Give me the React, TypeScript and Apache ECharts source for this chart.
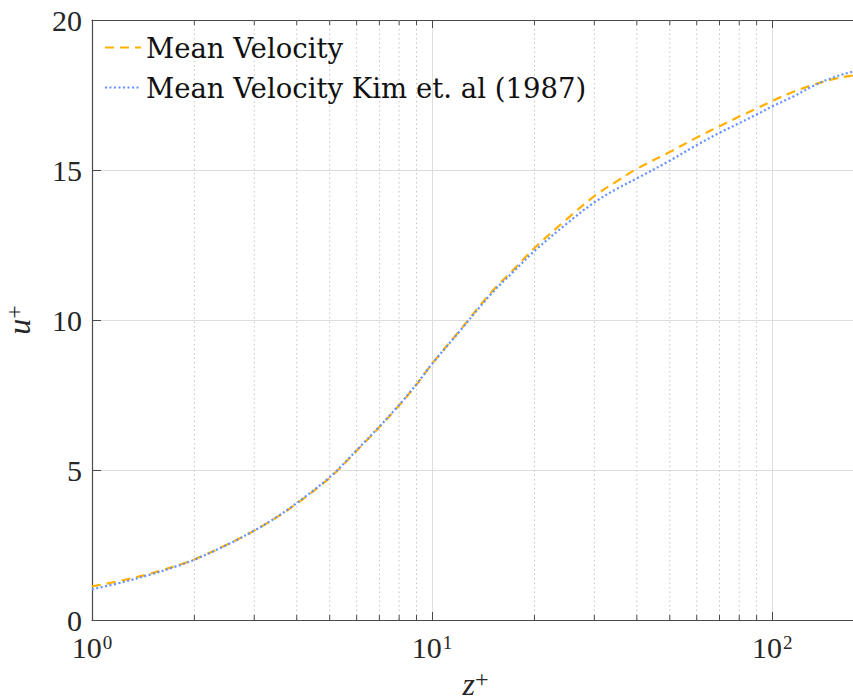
import React, { useEffect, useRef } from "react";
import * as echarts from "echarts";

// z+ sample positions (wall units)
const zPlus = [1, 1.25, 1.5, 1.75, 2, 2.5, 3, 3.5, 4, 5, 6, 7, 8, 9, 10, 12, 15, 17.5, 20, 25, 30, 35, 40, 50, 60, 70, 80, 90, 100, 115, 132, 150, 170, 180];
// Mean velocity (simulation)
const meanVelocity = [1.12, 1.34, 1.56, 1.79, 2.02, 2.52, 2.98, 3.43, 3.88, 4.74, 5.64, 6.43, 7.15, 7.85, 8.54, 9.62, 10.95, 11.72, 12.4, 13.38, 14.13, 14.63, 15.04, 15.6, 16.08, 16.46, 16.78, 17.05, 17.3, 17.6, 17.84, 18.02, 18.14, 18.17];
// Mean velocity Kim et al. (1987)
const meanVelocityKim = [1.02, 1.28, 1.53, 1.77, 2.01, 2.51, 2.98, 3.44, 3.9, 4.76, 5.66, 6.45, 7.17, 7.86, 8.54, 9.6, 10.9, 11.65, 12.3, 13.23, 13.92, 14.38, 14.72, 15.31, 15.83, 16.24, 16.56, 16.85, 17.12, 17.44, 17.8, 18.07, 18.26, 18.3];

const seriesNames = ["Mean Velocity", "Mean Velocity Kim et. al (1987)"];
const majorXTicks = [1, 10, 100];
const minorXTicks = [2, 3, 4, 5, 6, 7, 8, 9, 20, 30, 40, 50, 60, 70, 80, 90];
const yTicks = [0, 5, 10, 15, 20];

const X_MIN = 1;
const X_MAX = 180;
const Y_MIN = 0;
const Y_MAX = 20;

const TICK_FONT = "'Liberation Serif', serif";
const LEGEND_FONT = "'DejaVu Serif', serif";
const AXIS_COLOR = "#4a4a4a";

export default function App() {
  const ref = useRef<HTMLDivElement>(null);

  useEffect(() => {
    if (!ref.current) return;
    const chart = echarts.init(ref.current, null, { renderer: "svg" });

    const isMajor = (v: number) => majorXTicks.some((t) => Math.abs(t - v) < 1e-6 * t);

    const option: any = {
      animation: false,
      backgroundColor: "#ffffff",
      grid: { left: 92, top: 20, width: 767, height: 600, containLabel: false, outerBoundsMode: "none" },
      legend: {
        data: seriesNames,
        orient: "vertical",
        left: 104,
        top: 32,
        padding: 0,
        itemWidth: 36,
        itemHeight: 14,
        itemGap: 9,
        selectedMode: false,
        itemStyle: { opacity: 0 },
        textStyle: { fontFamily: LEGEND_FONT, fontSize: 27.5, color: "#111", lineHeight: 31 },
      },
      xAxis: [
        {
          type: "log",
          logBase: 10,
          min: X_MIN,
          max: X_MAX,
          position: "bottom",
          axisLine: { show: true, lineStyle: { color: AXIS_COLOR, width: 1.2 } },
          axisTick: { show: true, inside: true, length: 8, lineStyle: { color: AXIS_COLOR } },
          axisLabel: {
            show: true,
            margin: 13,
            showMaxLabel: false,
            formatter: (v: number) => {
              if (!isMajor(v)) return "";
              const e = Math.round(Math.log10(v));
              return `{b|10}{s|${e}}`;
            },
            rich: {
              b: { fontFamily: TICK_FONT, fontSize: 30, color: "#262626", lineHeight: 28 },
              s: { fontFamily: TICK_FONT, fontSize: 19, color: "#262626", verticalAlign: "top", lineHeight: 17, padding: [0, 0, 0, 1] },
            },
          },
          splitLine: { show: true, lineStyle: { color: "#dedede", width: 1 } },
          name: "{i|z}{s|+}",
          nameLocation: "middle",
          nameGap: 44,
          nameTextStyle: {
            rich: {
              i: { fontFamily: TICK_FONT, fontStyle: "italic", fontSize: 32, color: "#262626", lineHeight: 34 },
              s: { fontFamily: TICK_FONT, fontSize: 24, color: "#262626", verticalAlign: "top", lineHeight: 22 },
            },
          },
        },
        {
          type: "log",
          logBase: 10,
          min: X_MIN,
          max: X_MAX,
          position: "top",
          axisLine: { show: true, lineStyle: { color: AXIS_COLOR, width: 1.2 } },
          axisTick: { show: true, inside: true, length: 8, lineStyle: { color: AXIS_COLOR } },
          axisLabel: { show: false },
          splitLine: { show: false },
        },
      ],
      yAxis: [
        {
          type: "value",
          min: Y_MIN,
          max: Y_MAX,
          interval: 5,
          axisLine: { show: true, lineStyle: { color: AXIS_COLOR, width: 1.2 } },
          axisTick: { show: true, inside: true, length: 9, lineStyle: { color: AXIS_COLOR } },
          axisLabel: {
            margin: 10,
            fontFamily: TICK_FONT,
            fontSize: 30,
            lineHeight: 24,
            color: "#262626",
            formatter: (v: number) => (yTicks.includes(v) ? String(v) : ""),
          },
          splitLine: { show: true, lineStyle: { color: "#dedede", width: 1 } },
          name: "{i|u}{s|+}",
          nameLocation: "middle",
          nameRotate: 90,
          nameGap: 56,
          nameTextStyle: {
            rich: {
              i: { fontFamily: TICK_FONT, fontStyle: "italic", fontSize: 32, color: "#262626", lineHeight: 34 },
              s: { fontFamily: TICK_FONT, fontSize: 24, color: "#262626", verticalAlign: "top", lineHeight: 22 },
            },
          },
        },
      ],
      series: [
        {
          type: "custom",
          name: "minor",
          xAxisIndex: 0,
          yAxisIndex: 0,
          silent: true,
          z: 1,
          data: minorXTicks.map((v) => [v, Y_MIN]),
          renderItem: (params: any, api: any) => {
            const v = api.value(0);
            const b = api.coord([v, Y_MIN]);
            const t = api.coord([v, Y_MAX]);
            return {
              type: "group",
              children: [
                {
                  type: "line",
                  shape: { x1: b[0], y1: b[1], x2: t[0], y2: t[1] },
                  style: { stroke: "#c4c4c4", lineWidth: 1, lineDash: [1.5, 3] },
                },
                {
                  type: "line",
                  shape: { x1: b[0], y1: b[1], x2: b[0], y2: b[1] - 5 },
                  style: { stroke: AXIS_COLOR, lineWidth: 1 },
                },
                {
                  type: "line",
                  shape: { x1: t[0], y1: t[1], x2: t[0], y2: t[1] + 5 },
                  style: { stroke: AXIS_COLOR, lineWidth: 1 },
                },
              ],
            };
          },
        },
        {
          type: "line",
          name: seriesNames[0],
          xAxisIndex: 0,
          yAxisIndex: 0,
          data: zPlus.map((z, i) => [z, meanVelocity[i]]),
          showSymbol: false,
          symbol: "none",
          smooth: 0.35,
          z: 3,
          lineStyle: { color: "#FFB000", width: 2.2, type: [9, 6] },
          itemStyle: { color: "#FFB000" },
        },
        {
          type: "line",
          name: seriesNames[1],
          xAxisIndex: 0,
          yAxisIndex: 0,
          data: zPlus.map((z, i) => [z, meanVelocityKim[i]]),
          showSymbol: false,
          symbol: "none",
          smooth: 0.35,
          z: 4,
          lineStyle: { color: "#648FFF", width: 2.2, type: [2, 2.5] },
          itemStyle: { color: "#648FFF" },
        },
      ],
    };

    chart.setOption(option);
    return () => chart.dispose();
  }, []);

  return (
    <div
      ref={ref}
      style={{ position: "fixed", left: 0, top: 0, width: 853, height: 697, background: "#fff" }}
    />
  );
}
